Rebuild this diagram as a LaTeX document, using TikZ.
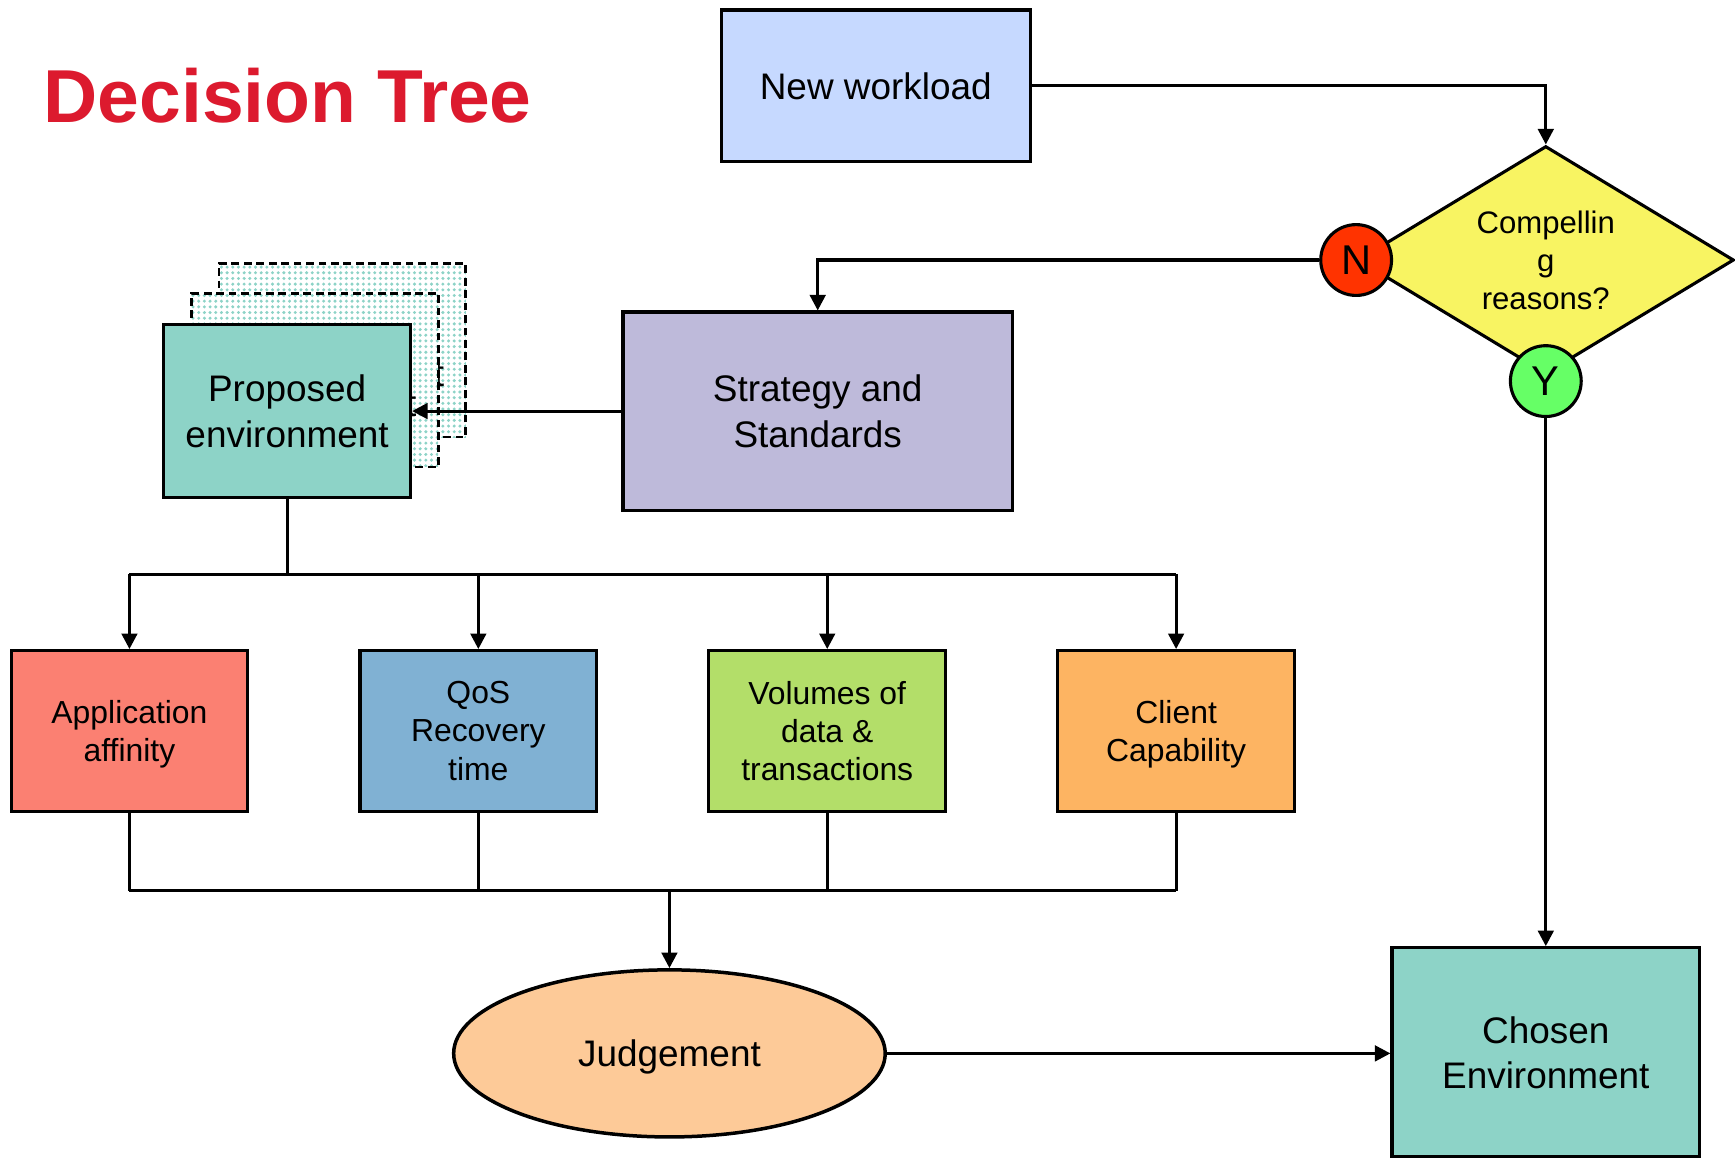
\documentclass[tikz,border=0pt]{standalone}
\usepackage{fontspec}
\setmainfont{Liberation Sans}
\usetikzlibrary{positioning, arrows.meta, shapes.geometric, patterns.meta}
\definecolor{titlered}{HTML}{DC1A2E}
\definecolor{wlblue}{HTML}{C6D9FF}
\definecolor{cryellow}{HTML}{F8F462}
\definecolor{nred}{HTML}{FF3300}
\definecolor{ygreen}{HTML}{66FF66}
\definecolor{stlilac}{HTML}{BEBADA}
\definecolor{envteal}{HTML}{8DD3C7}
\definecolor{appred}{HTML}{FB8072}
\definecolor{qosblue}{HTML}{80B1D3}
\definecolor{volgreen}{HTML}{B3DE69}
\definecolor{ccorange}{HTML}{FDB462}
\definecolor{jdpeach}{HTML}{FDCA98}

\begin{document}
\begin{tikzpicture}[node distance=3.153cm, on grid, line width=0.8pt, >={Triangle[length=4pt,width=4pt]},
    box/.style={draw, rectangle, inner sep=0, align=center, text depth=-1.3pt, font=\fontsize{9.5}{11.6}\selectfont},
    small/.style={box, minimum width=2.14cm, minimum height=1.45cm, font=\fontsize{8.2}{9.8}\selectfont},
    ghost/.style={box, line width=0.7pt, dash pattern=on 2pt off 1.2pt, preaction={fill=white},
      pattern={Dots[distance=1.46pt,radius=0.43pt]}, pattern color=envteal, minimum width=2.23cm, minimum height=1.57cm},
    yn/.style={draw, circle, inner sep=0, minimum size=0.64cm, font=\fontsize{10.7}{12}\selectfont}]
      \useasboundingbox (0,0) rectangle (15.68,10.47);
      \node[anchor=base west, inner sep=0, text=titlered, font=\fontsize{19.3}{23}\selectfont\bfseries] (title) at (0.38,9.36) {Decision Tree};
      \node[box, fill=wlblue, minimum width=2.79cm, minimum height=1.37cm] (nw) at (7.915,9.695) {New workload};
      \node[diamond, draw, fill=cryellow, minimum width=3.4cm, minimum height=2.06cm, inner sep=0] (cr) at (13.97,8.12) {};
      \node[align=center, font=\fontsize{8}{9.8}\selectfont] (crt) at (cr) {Compellin\\g\\reasons?};
      \node[yn, fill=nred] (n) at (cr.west) {N};
      \node[yn, fill=ygreen, yshift=-0.05cm] (y) at (cr.south) {Y};
      \node[box, fill=stlilac, minimum width=3.52cm, minimum height=1.79cm] (st) at (7.39,6.755) {Strategy and\\Standards};
      \node[ghost] (pe2) at (3.095,7.305) {Proposed\\environment};
      \node[ghost] (pe1) at (2.845,7.035) {Proposed\\environment};
      \node[box, fill=envteal, minimum width=2.23cm, minimum height=1.57cm] (pe) at (2.595,6.755) {Proposed\\environment};
      \node[small, fill=appred] (app) at (1.17,3.865) {Application\\affinity};
      \node[small, fill=qosblue, right=of app] (qos) {QoS\\Recovery\\time};
      \node[small, fill=volgreen, right=of qos] (vol) {Volumes of\\data \&\\transactions};
      \node[small, fill=ccorange, right=of vol] (cc) {Client\\Capability};
      \node[ellipse, draw, fill=jdpeach, line width=0.9pt, text depth=0pt, minimum width=3.9cm, minimum height=1.51cm, font=\fontsize{9.5}{11.6}\selectfont] (jd) at (6.05,0.95) {Judgement};
      \node[box, fill=envteal, minimum width=2.78cm, minimum height=1.89cm] (ce) at (13.97,0.96) {Chosen\\Environment};
      \coordinate (top) at (2.595,5.28);
      \coordinate (bot) at (6.05,2.42);
      \draw[->] (nw.east) -| (cr.north);
      \draw[->] (n.west) -| (st.north);
      \draw[->] (st.west) -- (pe.east);
      \draw (pe.south) -- (top);
      \draw (top -| app) -- (top -| cc);
      \foreach \b in {app, qos, vol, cc}
        \draw[->] (top -| \b) -- (\b.north);
      \foreach \b in {app, qos, vol, cc}
        \draw (\b.south) -- (\b.south |- bot);
      \draw (bot -| app) -- (bot -| cc);
      \draw[->] (bot) -- (jd.north);
      \draw[->] (jd.east) -- (jd.east -| ce.west);
      \draw[->] (y.south) -- (ce.north);
    \end{tikzpicture}
\end{document}
